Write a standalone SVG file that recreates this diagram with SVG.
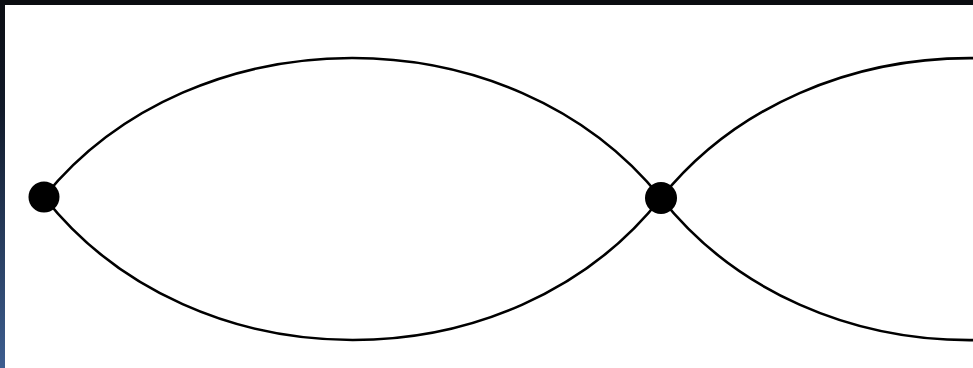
<svg xmlns="http://www.w3.org/2000/svg" width="973" height="368" viewBox="0 0 973 368">
  <defs>
    <linearGradient id="edge" x1="0" y1="0" x2="0" y2="1">
      <stop offset="0" stop-color="#0b0d12"/>
      <stop offset="0.3" stop-color="#111a2a"/>
      <stop offset="1" stop-color="#3d5e90"/>
    </linearGradient>
  </defs>
  <style>
    .wire { fill: none; stroke: #000; stroke-width: 2.6; }
    .dot { fill: #000; }
  </style>
  <rect x="0" y="0" width="973" height="368" fill="#fff"/>
  <g id="connectors">
    <path class="wire" d="M44,197 C194,11.5 511,11.5 661,198"/>
    <path class="wire" d="M44,197 C194,387.5 511,387.5 661,198"/>
    <path class="wire" d="M661,198 C811,11.5 1128,11.5 1278,198"/>
    <path class="wire" d="M661,198 C811,387.5 1128,387.5 1278,198"/>
  </g>
  <g id="node-left">
    <circle class="dot" cx="44" cy="197" r="15.5"/>
  </g>
  <g id="node-right">
    <circle class="dot" cx="661" cy="198" r="16"/>
  </g>
  <rect x="0" y="0" width="973" height="5" fill="#0b0d11"/>
  <rect x="0" y="0" width="5" height="368" fill="url(#edge)"/>
</svg>
